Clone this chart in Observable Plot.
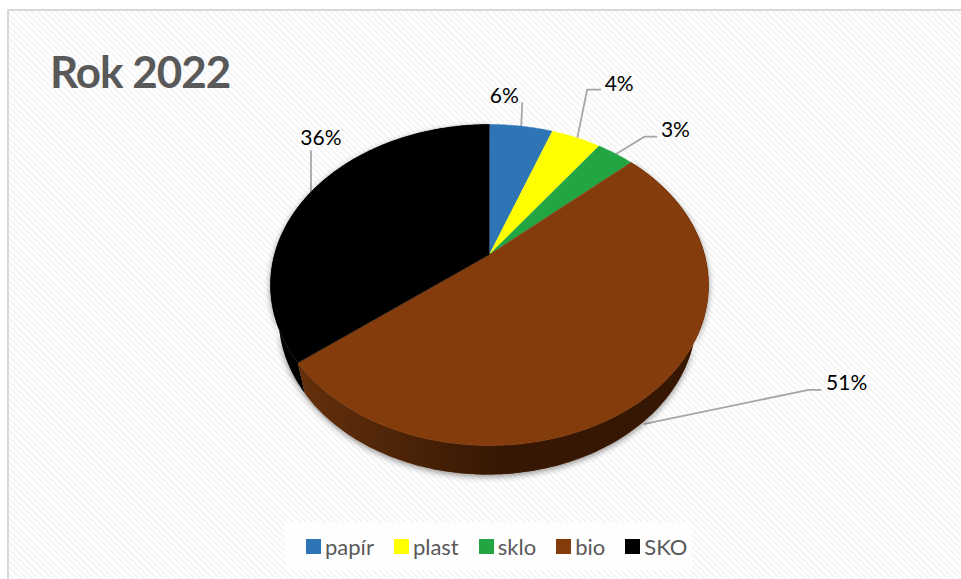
<!DOCTYPE html>
<html>
<head>
<meta charset="utf-8">
<script src="https://cdn.jsdelivr.net/npm/d3@7"></script>
<script src="https://cdn.jsdelivr.net/npm/@observablehq/plot@0.6"></script>
<style>
html,body{margin:0;padding:0;background:#fff;overflow:hidden}
#page{position:relative;width:961px;height:579px;overflow:hidden;font-family:Lato,sans-serif}
#panel{position:absolute;left:7px;top:9px;width:970px;height:590px;box-sizing:border-box;border:2px solid #d9d9d9;
 background:repeating-linear-gradient(45deg,#fff 0,#fff 2.2px,#f6f6f6 2.2px,#f6f6f6 4.4px)}
#title{position:absolute;left:50px;top:43px;font:700 44px/56px Lato,sans-serif;letter-spacing:-1px;color:#595959;white-space:nowrap}
#legendbox{position:absolute;left:285px;top:523px;width:407px;height:47px;background:#fff;opacity:.9}
#legend{position:absolute;left:306px;top:530px}
#chart{position:absolute;left:0;top:0}
#chart svg{background:transparent}
.lg-swatches{font:22px Lato,sans-serif!important;color:#595959!important;margin:0!important;min-height:33px;flex-wrap:nowrap}
.lg-swatch{margin-right:20px!important;white-space:nowrap}
.lg-swatch svg{margin-right:4px!important}
</style>
</head>
<body>
<div id="page">
  <div id="panel"></div>
  <div id="title">Rok 2022</div>
  <div id="legendbox"></div>
  <div id="chart"></div>
  <div id="legend"></div>
</div>
<script>
// Data
const names = ["papír", "plast", "sklo", "bio", "SKO"];
const shares = [5.6, 4.4, 3.3, 51.1, 35.6];
const colors = ["#2e75b6", "#ffff00", "#22a644", "#843c0c", "#000000"];

// Perspective pie geometry
const rim = {cx: 489, cy: 284.5, rx: 219, ry: 160.5};
const rimLow = {cx: 487, cy: 316, rx: 209, ry: 158};
const apex = {x: 489, y: 254};
const a = (rim.cy - apex.y) / rim.ry;
const k = Math.sqrt((1 - a) / (1 + a));
const total = d3.sum(shares);

function rimAngle(share) { // share of the circle -> projected rim angle
  const h = Math.PI * share / total;
  return 2 * Math.atan2(k * Math.sin(h), Math.cos(h));
}
function rimPoint(share, e = rim) {
  const t = rimAngle(share);
  return {x: e.cx + e.rx * Math.sin(t), y: e.cy - e.ry * Math.cos(t)};
}
function arc(from, to, e = rim) {
  const n = Math.max(8, Math.ceil((to - from) * 4));
  return d3.range(n + 1).map(i => rimPoint(from + (to - from) * i / n, e));
}

let acc = 0;
const slices = names.map((name, i) => {
  const s = {name, share: shares[i], start: acc, end: acc + shares[i], mid: acc + shares[i] / 2};
  acc += shares[i];
  return s;
});

const faces = slices.flatMap(s => [apex, ...arc(s.start, s.end)].map(p => ({...p, name: s.name})));
const wall = s => [...arc(s.start, s.end), ...arc(s.start, s.end, rimLow).reverse()];

// Label layout, as offsets from the middle of each slice's rim
const leaderOffsets = [
  [[0, 1], [1, -23]],
  [[1, 1], [11, -48], [24, -48]],
  [[1, 0], [29, -17], [41, -17]],
  [[-7, 31], [157, -3], [169, -3]],
  [[0, 0], [0, -41]]
];
const labelOffsets = [[-17, -30], [43, -53], [60, -23], [195, -10], [10, -54]];
const leaders = slices.flatMap((s, i) => {
  const m = rimPoint(s.mid);
  return leaderOffsets[i].map(([dx, dy]) => ({x: m.x + dx, y: m.y + dy, name: s.name}));
});
const labels = slices.map((s, i) => {
  const m = rimPoint(s.mid);
  return {x: m.x + labelOffsets[i][0], y: m.y + labelOffsets[i][1], text: Math.round(s.share) + "%"};
});

const gradient = () => {
  const svg = d3.create("svg:defs");
  const g = svg.append("linearGradient").attr("id", "bioWall")
    .attr("gradientUnits", "userSpaceOnUse")
    .attr("x1", 300).attr("x2", 500).attr("y1", 0).attr("y2", 0);
  g.append("stop").attr("offset", 0).attr("stop-color", "#64300c");
  g.append("stop").attr("offset", 1).attr("stop-color", "#361703");
  return svg.node();
};

const plot = Plot.plot({
  width: 961,
  height: 579,
  margin: 0,
  style: {background: "transparent", overflow: "visible"},
  x: {domain: [0, 961], range: [0, 961], axis: null},
  y: {domain: [0, 579], range: [0, 579], axis: null},
  color: {domain: names, range: colors},
  marks: [
    gradient,
    Plot.line(leaders, {x: "x", y: "y", z: "name", stroke: "#a6a6a6", strokeWidth: 1.8}),
    Plot.line(slices.slice(3).reverse().flatMap(s => wall(s).map(p => ({...p, name: s.name}))), {
      x: "x", y: "y", z: "name",
      fill: "name"
    }),
    Plot.line(wall(slices[3]), {x: "x", y: "y", fill: "url(#bioWall)", stroke: "none"}),
    Plot.line(faces, {x: "x", y: "y", z: "name", fill: "name", stroke: "name", strokeWidth: 0.5}),
    Plot.text(labels, {x: "x", y: "y", text: "text", fontSize: 21, fontFamily: "Lato, sans-serif", fill: "#000"})
  ]
});
document.getElementById("chart").appendChild(plot);
// Soft shadow under the pie's side wall
plot.querySelectorAll('g[aria-label="line"]')[1].style.filter = "drop-shadow(0 2px 3px rgba(0,0,0,.45))";

const legend = plot.legend("color", {swatchSize: 15, className: "lg"});
document.getElementById("legend").appendChild(legend);
</script>
</body>
</html>
